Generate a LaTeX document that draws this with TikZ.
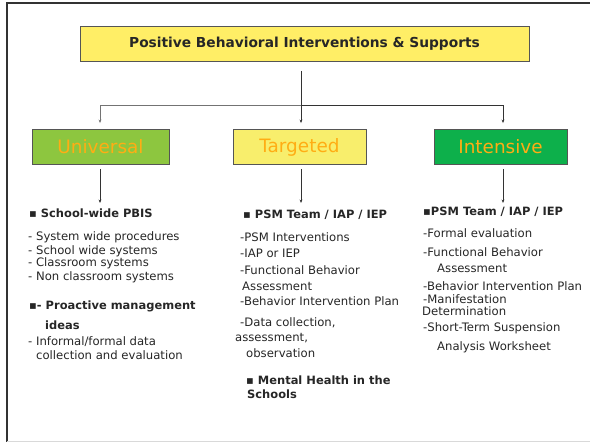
\documentclass[tikz,border=0pt]{standalone}
\usepackage{fontspec}
\setmainfont{DejaVu Sans}
\usetikzlibrary{arrows.meta}
\definecolor{titleyel}{HTML}{FFEE66}
\definecolor{unigreen}{HTML}{8DC63F}
\definecolor{taryel}{HTML}{F8EE6C}
\definecolor{intgreen}{HTML}{0DB04B}
\definecolor{lblorange}{HTML}{FFAD14}
\definecolor{edgegray}{HTML}{555555}
\tikzset{
  boxbase/.style={draw=edgegray, line width=0.9bp, inner sep=0pt},
  titlebox/.style={boxbase, fill=titleyel, minimum width=449bp, minimum height=35bp,
    font=\fontsize{13.8}{16}\selectfont\bfseries, text=black!85},
  tierbox/.style={boxbase, minimum width=137bp, minimum height=35bp,
    font=\fontsize{18.5}{22}\selectfont, text=lblorange},
  txt/.style={anchor=west, inner sep=0pt, font=\fontsize{11.7}{13}\selectfont, text=black!85},
  btxt/.style={txt, font=\fontsize{11.5}{13}\selectfont\bfseries},
  conn/.style={draw=black!80, line width=0.8bp},
  arr/.style={conn, -{Stealth[length=3.5bp,width=2.8bp]}},
}
\begin{document}
\begin{tikzpicture}[x=1bp,y=-1bp]
\useasboundingbox (0,0) rectangle (590,442);
% frame
\draw[line width=2bp, black!80] (7,442) -- (7,3.5) -- (592,3.5);
\draw[line width=1bp, black!15] (7,441.5) -- (592,441.5);
% boxes
\node[titlebox] (title) at (304.5,43.5) {Positive Behavioral Interventions \& Supports};
\node[tierbox, fill=unigreen] (uni) at (100.5,147) {Universal};
\node[tierbox, fill=taryel, minimum width=133bp] (tar) at (299.5,147) {Targeted};
\node[tierbox, fill=intgreen, minimum width=133bp] (int) at (500.5,147) {Intensive};
% connector points
\coordinate (ttop) at (301,71);
\coordinate (hj) at (301,105.5);
\coordinate (ua) at (100,203);
\coordinate (ta) at (301,203);
\coordinate (ia) at (503,203);
\coordinate (ub) at (100,169);
\coordinate (tb) at (301,169);
\coordinate (ib) at (503,169);
\draw[conn] (ttop) -- (hj);
\draw[arr, draw=black!55, shorten >=6bp] (hj) -| (uni.north -| ub);
\draw[arr, shorten >=6bp] (hj) -- (tar.north -| tb);
\draw[arr, shorten >=6bp] (hj) -| (int.north -| ib);
\draw[arr] (ub) -- (ua);
\draw[arr] (tb) -- (ta);
\draw[arr] (ib) -- (ia);
% Universal column
\node[btxt] (u0) at (29,213) {▪ School-wide PBIS};
\node[txt] (u1) at (28,237) {- System wide procedures};
\node[txt] (u2) at (28,251) {- School wide systems};
\node[txt] (u3) at (28,263) {- Classroom systems};
\node[txt] (u4) at (28,277) {- Non classroom systems};
\node[btxt] (u5) at (29,306) {▪- Proactive management};
\node[btxt] (u6) at (45,325) {ideas};
\node[txt] (u7) at (28,342) {- Informal/formal data};
\node[txt] (u8) at (36,355) {collection and evaluation};
% Targeted column
\node[btxt] (t0) at (243,215) {▪ PSM Team / IAP / IEP};
\node[txt] (t1) at (240,237) {-PSM Interventions};
\node[txt] (t2) at (240,253) {-IAP or IEP};
\node[txt] (t3) at (240,270) {-Functional Behavior};
\node[txt] (t4) at (242,286) {Assessment};
\node[txt] (t5) at (240,301) {-Behavior Intervention Plan};
\node[txt] (t6) at (240,323) {-Data collection,};
\node[txt] (t7) at (235,338) {assessment,};
\node[txt] (t8) at (246,353) {observation};
\node[btxt] (t9) at (246,380) {▪ Mental Health in the};
\node[btxt] (t10) at (247,394) {Schools};
% Intensive column
\node[btxt] (i0) at (423,212) {▪PSM Team / IAP / IEP};
\node[txt] (i1) at (423,233) {-Formal evaluation};
\node[txt] (i2) at (423,252) {-Functional Behavior};
\node[txt] (i3) at (437,268) {Assessment};
\node[txt] (i4) at (423,286) {-Behavior Intervention Plan};
\node[txt] (i5) at (423,299) {-Manifestation};
\node[txt] (i6) at (422,311) {Determination};
\node[txt] (i7) at (423,328) {-Short-Term Suspension};
\node[txt] (i8) at (437,347) {Analysis Worksheet};
\end{tikzpicture}
\end{document}
